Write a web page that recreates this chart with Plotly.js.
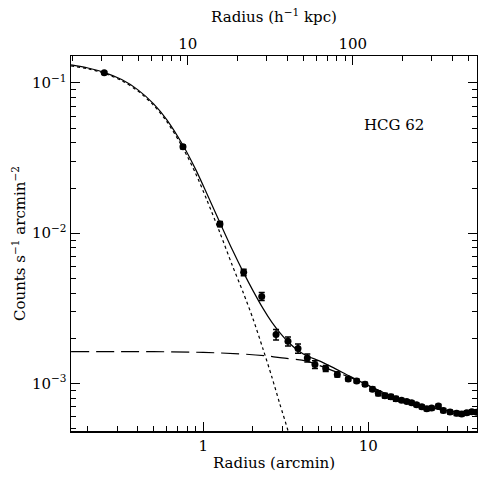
<!DOCTYPE html>
<html>
<head>
<meta charset="utf-8">
<script src="https://cdn.plot.ly/plotly-3.0.1.min.js"></script>
<style>html,body{margin:0;padding:0;background:#fff;}#chart{width:478px;height:483px;}</style>
</head>
<body>
<div id="chart"></div>
<script>
// Observed surface brightness profile (arcmin, counts s^-1 arcmin^-2)
const radiusArcmin = [0.251, 0.753, 1.262, 1.757, 2.26, 2.76, 3.26, 3.75, 4.27, 4.75, 5.52, 6.49, 7.56, 8.5, 9.55, 10.6, 11.5, 12.6, 13.7, 14.7, 15.9, 17.1, 18.3, 19.6, 21.1, 22.6, 24.2, 26.6, 28.5, 31.3, 34.3, 36.8, 39.5, 42.4, 45.4];
const counts = [0.117, 0.0376, 0.0115, 0.00549, 0.0038, 0.00212, 0.00191, 0.00171, 0.00148, 0.00134, 0.00126, 0.00115, 0.00107, 0.00104, 0.00099, 0.000917, 0.00086, 0.00083, 0.000816, 0.000791, 0.000775, 0.000759, 0.000744, 0.000722, 0.0007, 0.00068, 0.000686, 0.000708, 0.000662, 0.000646, 0.000633, 0.000627, 0.00064, 0.00065, 0.000644];
const countsErr = [0.0023, 0.0011, 0.00046, 0.00027, 0.00023, 0.00017, 0.00013, 0.00012, 0.00009, 0.00008, 0.00006, 0.000045, 0.00003, 0.00003, 0.00003, 0.00003, 0.00003, 0.00003, 0.00003, 0.00003, 0.00002, 0.00002, 0.00002, 0.00002, 0.00002, 0.00002, 0.00002, 0.00002, 0.00002, 0.00002, 0.00002, 0.00002, 0.00002, 0.00002, 0.00002];

// Total model (solid)
const totalR = [0.158, 0.2, 0.25, 0.32, 0.4, 0.5, 0.6, 0.75, 0.9, 1.05, 1.26, 1.5, 1.75, 2.0, 2.3, 2.6, 2.9, 3.27, 3.7, 4.23, 5, 6, 7.7, 10, 14, 20, 30, 45.6];
const totalS = [0.132, 0.1258, 0.1177, 0.1053, 0.0903, 0.0726, 0.0571, 0.0388, 0.0265, 0.0184, 0.0118, 0.00776, 0.00549, 0.00415, 0.00316, 0.00256, 0.00219, 0.00189, 0.00168, 0.00153, 0.00142, 0.00129, 0.00112, 0.00097, 0.00082, 0.00072, 0.00066, 0.00063];

// Inner component (dotted)
const innerR = [0.158, 0.2, 0.25, 0.32, 0.4, 0.5, 0.6, 0.75, 0.9, 1.05, 1.26, 1.5, 1.75, 2.0, 2.3, 2.6, 2.9, 3.27, 3.5];
const innerS = [0.130, 0.1242, 0.1161, 0.1037, 0.0887, 0.071, 0.0555, 0.0372, 0.0249, 0.0167, 0.0101, 0.0061, 0.0040, 0.0027, 0.0017, 0.00111, 0.00074, 0.00048, 0.00036];

// Outer component (dashed)
const outerR = [0.158, 0.5, 1.0, 1.67, 2.37, 3.0, 4.23, 5.5, 7.7, 10, 14, 20, 30, 45.6];
const outerS = [0.00163, 0.00163, 0.00161, 0.001575, 0.00153, 0.00148, 0.00141, 0.00127, 0.0011, 0.00097, 0.00082, 0.00072, 0.00066, 0.00063];

// Top axis (h^-1 kpc) major tick labels
const kpcTicks = [10, 100];
const kpcTickText = ['10', '100'];

const xMinorVals = [0.2, 0.3, 0.4, 0.5, 0.6, 0.7, 0.8, 0.9, 2, 3, 4, 5, 6, 7, 8, 9, 20, 30, 40];
const x2MinorVals = [2, 3, 4, 5, 6, 7, 8, 9, 20, 30, 40, 50, 60, 70, 80, 90, 200, 300, 400, 500];
const yMinorVals = [0.0005, 0.0006, 0.0007, 0.0008, 0.0009, 0.002, 0.003, 0.004, 0.005, 0.006, 0.007, 0.008, 0.009, 0.02, 0.03, 0.04, 0.05, 0.06, 0.07, 0.08, 0.09];

const FONT = {family: 'DejaVu Serif', size: 15, color: '#000'};

const traces = [
  {x: innerR, y: innerS, mode: 'lines', line: {color: '#000', width: 1.2, dash: 'dot', shape: 'spline', smoothing: 0.8}, hoverinfo: 'skip'},
  {x: outerR, y: outerS, mode: 'lines', line: {color: '#000', width: 1.2, dash: '18px,7px', shape: 'spline'}, hoverinfo: 'skip'},
  {x: totalR, y: totalS, mode: 'lines', line: {color: '#000', width: 1.2, shape: 'spline', smoothing: 0.8}, hoverinfo: 'skip'},
  {x: radiusArcmin, y: counts, mode: 'markers', marker: {color: '#000', size: 7, symbol: 'circle'},
   error_y: {type: 'data', array: countsErr, visible: true, color: '#000', thickness: 1.5, width: 3}},
  // empty trace so the top (kpc) axis is drawn
  {x: kpcTicks, y: [null, null], xaxis: 'x2', yaxis: 'y', mode: 'markers', marker: {opacity: 0}, hoverinfo: 'skip'}
];

const layout = {
  width: 478, height: 483,
  margin: {l: 71, r: 1, t: 56, b: 52},
  paper_bgcolor: '#fff', plot_bgcolor: '#fff',
  showlegend: false,
  font: FONT,
  xaxis: {
    type: 'log', range: [-0.8018, 1.6588],
    showline: true, linecolor: '#000', linewidth: 1.5, mirror: false,
    ticks: 'inside', ticklen: 9, tickwidth: 1, tickcolor: '#000',
    tickmode: 'array', tickvals: [1, 10], ticktext: ['1', '10'],
    minor: {ticks: 'inside', ticklen: 5, tickwidth: 1, tickcolor: '#000', tickmode: 'array', tickvals: xMinorVals, showgrid: false},
    showgrid: false, zeroline: false,
    tickfont: FONT,
    title: {text: 'Radius (arcmin)', font: FONT, standoff: 4}
  },
  xaxis2: {
    type: 'log', range: [0.2927, 2.7533], overlaying: 'x', side: 'top', anchor: 'y',
    showline: true, linecolor: '#000', linewidth: 1.5,
    ticks: 'inside', ticklen: 9, tickwidth: 1, tickcolor: '#000',
    tickmode: 'array', tickvals: kpcTicks, ticktext: kpcTickText,
    minor: {ticks: 'inside', ticklen: 5, tickwidth: 1, tickcolor: '#000', tickmode: 'array', tickvals: x2MinorVals, showgrid: false},
    showgrid: false, zeroline: false,
    tickfont: FONT,
    title: {text: 'Radius (h<sup>−1</sup> kpc)', font: FONT, standoff: 8}
  },
  yaxis: {
    type: 'log', range: [-3.316, -0.8206],
    showline: true, linecolor: '#000', linewidth: 1.5, mirror: 'ticks',
    ticks: 'inside', ticklen: 9, tickwidth: 1, tickcolor: '#000',
    tickmode: 'array', tickvals: [0.001, 0.01, 0.1], ticktext: ['10<sup>−3</sup>', '10<sup>−2</sup>', '10<sup>−1</sup>'],
    minor: {ticks: 'inside', ticklen: 5, tickwidth: 1, tickcolor: '#000', tickmode: 'array', tickvals: yMinorVals, showgrid: false},
    showgrid: false, zeroline: false,
    tickfont: FONT,
    title: {text: 'Counts s<sup>−1</sup> arcmin<sup>−2</sup>', font: FONT, standoff: 2}
  },
  annotations: [
    {xref: 'paper', yref: 'paper', x: 0.796, y: 0.816, xanchor: 'center', yanchor: 'middle', text: 'HCG 62', showarrow: false, font: FONT}
  ]
};

Plotly.newPlot('chart', traces, layout, {staticPlot: true, displayModeBar: false});
</script>
</body>
</html>
